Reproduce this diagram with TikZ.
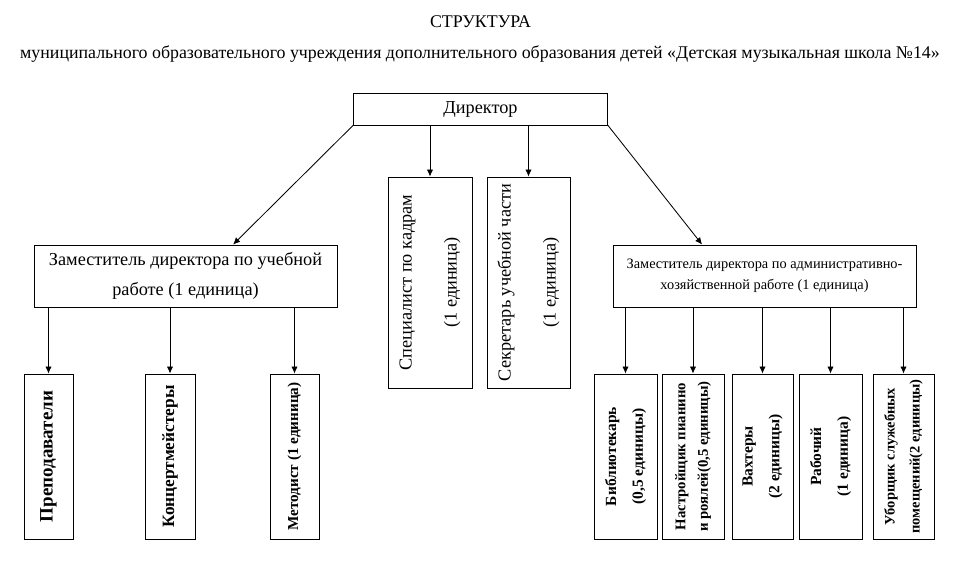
\documentclass[tikz,border=0pt]{standalone}
\usepackage{fontspec}
\setmainfont{Liberation Serif}
\usetikzlibrary{arrows.meta, positioning}
\tikzstyle{block}=[draw,rectangle,inner sep=1pt,align=center]
\tikzstyle{vblock}=[block,rotate=90,minimum width=4.125cm,font=\bfseries\fontsize{11}{19}\selectfont]
\newcommand{\fs}[2]{\fontsize{#1}{#2}\selectfont}

\begin{document}
\begin{tikzpicture}[x=0.025cm,y=-0.025cm,>={Latex[length=5pt,width=4.5pt]},line width=0.6pt]
  \useasboundingbox (0,0) rectangle (969,576);
  \node (title) at (480.5,22) {\fs{12.7}{14}СТРУКТУРА};
  \node (subtitle) at (480,54) {\fs{12.7}{14}муниципального образовательного учреждения дополнительного образования детей «Детская музыкальная школа №14»};
  % top level
  \node[block, minimum width=6.35cm, minimum height=0.8cm, font=\fs{13}{15}] (dir) at (480.5,109) {Директор};
  \node[block, minimum width=7.575cm, minimum height=1.55cm, font=\fs{13}{21}] (dep1) at (185.5,276) {Заместитель директора по учебной\\работе (1 единица)};
  \node[block, minimum width=7.575cm, minimum height=1.55cm, font=\fs{10.2}{15}] (dep2) at (764.5,276) {Заместитель директора по административно-\\хозяйственной работе (1 единица)};
  \node[block, rotate=90, minimum width=5.275cm, minimum height=2.1cm, font=\fs{13}{32}] (spec) at (430,282.5) {Специалист по кадрам\\(1 единица)};
  \node[block, rotate=90, minimum width=5.275cm, minimum height=2.075cm, font=\fs{13}{32}] (secr) at (528.5,282.5) {Секретарь учебной части\\(1 единица)};
  % under dep1
  \node[vblock, minimum height=1.225cm, font=\bfseries\fs{13.5}{16}] (teach) at (48.5,456.5) {Преподаватели};
  \node[vblock, minimum height=1.25cm, font=\bfseries\fs{12.3}{16}] (conc) at (170,456.5) {Концертмейстеры};
  \node[vblock, minimum height=1.225cm, font=\bfseries\fs{10.8}{12}] (meth) at (294.5,456.5) {Методист (1 единица)};
  % under dep2
  \node[vblock, minimum height=1.575cm] (lib) at (625.5,456.5) {Библиотекарь\\(0,5 единицы)};
  \node[vblock, minimum height=1.55cm, font=\bfseries\fs{10.5}{16}] (tun) at (693,456.5) {Настройщик пианино\\и роялей(0,5 единицы)};
  \node[vblock, minimum height=1.525cm] (watch) at (762.5,456.5) {Вахтеры\\(2 единицы)};
  \node[vblock, minimum height=1.575cm] (work) at (830.5,456.5) {Рабочий\\(1 единица)};
  \node[vblock, minimum height=1.525cm, font=\bfseries\fs{10.3}{17.7}] (clean) at (903.5,456.5) {Уборщик служебных\\помещений(2 единицы)};
  % connectors
  \draw[->] (dir.south west) -- ([xshift=1.19cm]dep1.north);
  \draw[->] (dir.south east) -- ([xshift=-1.56cm]dep2.north);
  \draw[->] (dir.south -| spec) -- (spec);
  \draw[->] (dir.south -| secr) -- (secr);
  \foreach \n in {teach,conc,meth}
    \draw[->] (dep1.south -| \n) -- (\n);
  \foreach \n in {lib,tun,watch,work,clean}
    \draw[->] (dep2.south -| \n) -- (\n);
\end{tikzpicture}
\end{document}
